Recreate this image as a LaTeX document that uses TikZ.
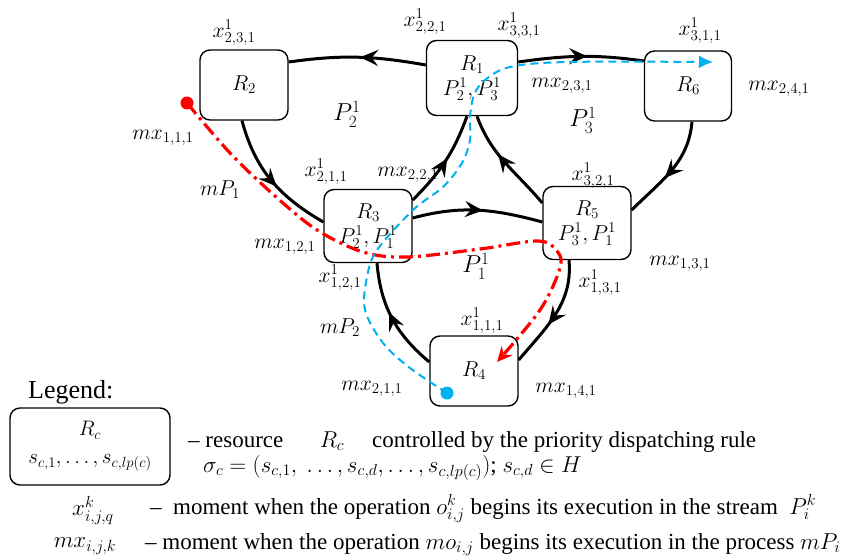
\RequirePackage{fix-cm}
\documentclass[tikz,border=0pt]{standalone}
\usepackage[no-math]{fontspec}
\setmainfont{Liberation Serif}
\usetikzlibrary{arrows.meta,decorations.markings,calc}
\definecolor{myblue}{RGB}{0,176,240}
\definecolor{myred}{RGB}{255,0,0}
\tikzset{
 res/.style={draw, line width=1.4pt, rounded corners=10pt, inner sep=0pt, align=center, font=\fontsize{21.5}{25}\selectfont},
 conn/.style={line width=3pt, postaction={decorate}, decoration={markings, mark=at position #1 with {\arrow{Stealth[length=18pt,width=16pt,inset=6.5pt]}}}},
 conn/.default=0.55,
 lab/.style={inner sep=0pt, font=\fontsize{21.5}{24}\selectfont},
 biglab/.style={inner sep=0pt, font=\fontsize{24.5}{28}\selectfont},
 legmath/.style={inner sep=0pt, font=\fontsize{23}{26}\selectfont},
 redpath/.style={myred, line width=3.2pt, dash pattern=on 14pt off 5pt on 3pt off 5pt},
 bluepath/.style={myblue, line width=2pt, dash pattern=on 8pt off 5pt},
 legtxt/.style={inner sep=0pt, anchor=base west, font=\fontsize{23}{26}\selectfont},
}
\begin{document}
\begin{tikzpicture}[x=1pt,y=1pt]
\useasboundingbox (0,0) rectangle (858,-559);
% resources
\node[res, minimum width=88pt, minimum height=70pt] (R2) at (244,-85) {$R_2$};
\node[res, minimum width=91pt, minimum height=75pt] (R1) at (472,-78) {$R_1$\\$P^1_2, P^1_3$};
\node[res, minimum width=87pt, minimum height=70pt] (R6) at (688,-86) {$R_6$};
\node[res, minimum width=88pt, minimum height=73pt] (R3) at (368,-226) {$R_3$\\$P^1_2, P^1_1$};
\node[res, minimum width=88pt, minimum height=73pt] (R5) at (587,-223) {$R_5$\\$P^1_3, P^1_1$};
\node[res, minimum width=88pt, minimum height=70pt] (R4) at (474,-371) {$R_4$};
% connectors
\draw[conn=0.48] ([yshift=13pt]R1.west) to[out=170,in=8] ([yshift=23pt]R2.east);
\draw[conn=0.55] ([yshift=16pt]R1.east) to[out=8,in=172] ([yshift=25pt]R6.west);
\draw[conn=0.58] ([xshift=4pt]R6.south) to[out=-95,in=45] ([yshift=13pt]R5.east);
\draw[conn=0.56] ([xshift=-2pt]R2.south) to[out=-75,in=150] ([yshift=4pt]R3.west);
\draw[conn=0.54] ([yshift=26pt]R3.east) to[out=45,in=-110] ([xshift=-5pt]R1.south);
\draw[conn=0.6] ([yshift=20pt]R5.west) to[out=130,in=-70] ([xshift=5pt]R1.south);
\draw[conn=0.54] ([yshift=8pt]R3.east) to[out=15,in=165] ([yshift=1pt]R5.west);
\draw[conn=0.6] ([xshift=-18pt]R5.south) to[out=-85,in=50] ([yshift=11pt]R4.east);
\draw[conn=0.56] ([yshift=9pt]R4.west) to[out=140,in=-85] ([xshift=9pt]R3.south);
% red process path
\coordinate (rs) at ([xshift=-57pt,yshift=-18pt]R2.center);
\coordinate (re) at ([xshift=23pt,yshift=9pt]R4.center);
\draw[redpath, -{Stealth[length=15pt,width=14pt,inset=5pt]}] plot[smooth, tension=0.55] coordinates {(rs) (230,-153) (275,-196) (317,-230) (363,-252) (407,-257) (480,-249) (538,-241) (557,-251) (560,-268) (540,-310) (re)};
\fill[myred] (rs) circle (6.5pt);
% blue process path
\coordinate (bs) at ([xshift=-27pt,yshift=-22pt]R4.center);
\coordinate (be) at ([xshift=25pt,yshift=24pt]R6.center);
\draw[bluepath, -{Latex[length=14pt,width=13pt]}] plot[smooth, tension=0.55] coordinates {(bs) (410,-368) (383,-343) (365,-310) (367,-277) (377,-250) (413,-210) (443,-187) (462,-163) (470,-140) (470,-117) (474,-95) (485,-80) (510,-67) (567,-62) (be)};
\fill[myblue] (bs) circle (6.5pt);
% labels
\node[lab] (l1) at (234,-33) {$x^1_{2,3,1}$};
\node[lab] (l2) at (425,-22) {$x^1_{2,2,1}$};
\node[lab] (l3) at (519,-26) {$x^1_{3,3,1}$};
\node[lab] (l4) at (700,-31) {$x^1_{3,1,1}$};
\node[lab] (l5) at (562,-86) {$mx_{2,3,1}$};
\node[lab] (l6) at (779,-89) {$mx_{2,4,1}$};
\node[biglab] (l7) at (347,-114) {$P^1_2$};
\node[biglab] (l8) at (583,-120) {$P^1_3$};
\node[lab] (l9) at (163,-138) {$mx_{1,1,1}$};
\node[lab] (l10) at (220,-190) {$mP_1$};
\node[lab] (l11) at (326,-172) {$x^1_{2,1,1}$};
\node[lab] (l12) at (408,-175) {$mx_{2,2,1}$};
\node[lab] (l13) at (593,-176) {$x^1_{3,2,1}$};
\node[lab] (l14) at (285,-247) {$mx_{1,2,1}$};
\node[lab] (l15) at (680,-264) {$mx_{1,3,1}$};
\node[biglab] (l16) at (476,-266) {$P^1_1$};
\node[lab] (l17) at (340,-278) {$x^1_{1,2,1}$};
\node[lab] (l18) at (600,-283) {$x^1_{1,3,1}$};
\node[lab] (l19) at (340,-328) {$mP_2$};
\node[lab] (l20) at (482,-321) {$x^1_{1,1,1}$};
\node[lab] (l21) at (372,-389) {$mx_{2,1,1}$};
\node[lab] (l22) at (566,-391) {$mx_{1,4,1}$};
% legend
\node[inner sep=0pt, anchor=base west, font=\fontsize{26}{30}\selectfont] (leg) at (28,-398) {Legend:};
\node[res, minimum width=160pt, minimum height=77pt, font=\fontsize{21}{28}\selectfont] (lbox) at (90,-446.5) {$R_c$\\$s_{c,1}, \dots, s_{c,lp(c)}$};
\node[legtxt] (t1) at (188,-447) {– resource};
\node[legmath] (t1m) at (332,-441) {$R_c$};
\node[legtxt] (t1b) at (372,-447) {controlled by the priority dispatching rule};
\node[legtxt] (t2) at (203,-472) {$\sigma_c = (s_{c,1},\ \dots, s_{c,d}, \dots, s_{c,lp(c)})$; $s_{c,d} \in H$};
\node[legmath] (t3m) at (93,-510) {$x^k_{i,j,q}$};
\node[legtxt] (t3) at (150,-514) {–\ \ moment when the operation $o^k_{i,j}$ begins its execution in the stream\ \ $P^k_i$};
\node[legmath] (t4m) at (85,-546) {$mx_{i,j,k}$};
\node[legtxt] (t4) at (145,-549) {– moment when the operation $mo_{i,j}$ begins its execution in the process $mP_i$};
\end{tikzpicture}
\end{document}
